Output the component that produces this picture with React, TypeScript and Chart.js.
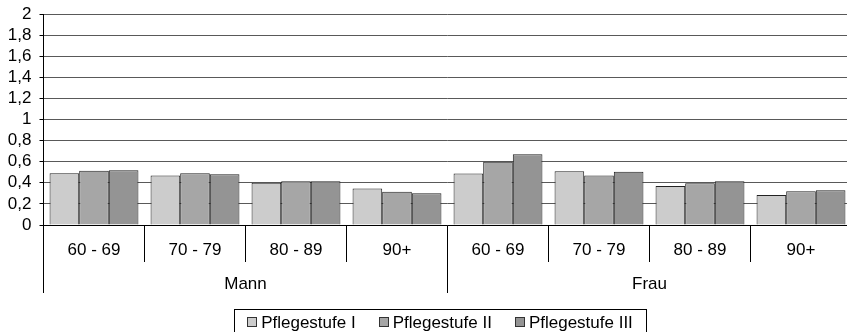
import React, { useEffect, useRef } from 'react';
import { Chart, registerables } from 'chart.js';

Chart.register(...registerables);

const categories = ['60 - 69', '70 - 79', '80 - 89', '90+', '60 - 69', '70 - 79', '80 - 89', '90+'];
const groups = ['Mann', 'Frau'];
const seriesNames = ['Pflegestufe I', 'Pflegestufe II', 'Pflegestufe III'];
const stufe1 = [0.49, 0.47, 0.4, 0.345, 0.487, 0.51, 0.37, 0.285];
const stufe2 = [0.515, 0.49, 0.415, 0.316, 0.6, 0.47, 0.395, 0.32];
const stufe3 = [0.52, 0.48, 0.415, 0.3, 0.67, 0.505, 0.415, 0.33];
const colors = ['#cccccc', '#a6a6a6', '#949494'];

const FONT_FAMILY = '"Liberation Sans", Arial, sans-serif';
const FONT_SIZE = 17;

const legendPlugin = {
  id: 'boxLegend',
  afterDraw(chart: any) {
    const ctx = chart.ctx;
    ctx.save();
    ctx.font = `${FONT_SIZE}px ${FONT_FAMILY}`;
    const box = 10;
    const gap = 4;
    const spacing = 23;
    const pad = 13;
    const items = chart.data.datasets.map((d: any) => ({
      text: d.label,
      color: d.backgroundColor,
      w: ctx.measureText(d.label).width,
    }));
    let total = 0;
    items.forEach((it: any, i: number) => {
      total += box + gap + it.w + (i < items.length - 1 ? spacing : 0);
    });
    const cx = chart.width / 2;
    const left = cx - total / 2;
    const top = 309;
    const cy = 322;
    ctx.strokeStyle = '#000';
    ctx.lineWidth = 1;
    ctx.strokeRect(Math.round(left - pad) + 0.5, top + 0.5, Math.round(total + 2 * pad), 30);
    let x = left;
    ctx.textBaseline = 'middle';
    ctx.textAlign = 'left';
    items.forEach((it: any) => {
      ctx.fillStyle = it.color;
      ctx.fillRect(Math.round(x) + 0.5, cy - 5 + 0.5, box - 1, box - 1);
      ctx.strokeStyle = '#333';
      ctx.strokeRect(Math.round(x) + 0.5, cy - 5 + 0.5, box - 1, box - 1);
      ctx.fillStyle = '#000';
      ctx.fillText(it.text, x + box + gap, cy + 1);
      x += box + gap + it.w + spacing;
    });
    ctx.restore();
  },
};

export default function App() {
  const ref = useRef<HTMLCanvasElement>(null);
  useEffect(() => {
    if (!ref.current) return;
    const font = { family: FONT_FAMILY, size: FONT_SIZE };
    const chart = new Chart(ref.current, {
      type: 'bar',
      data: {
        labels: categories,
        datasets: [stufe1, stufe2, stufe3].map((d, i) => ({
          label: seriesNames[i],
          data: d,
          backgroundColor: colors[i],
          borderColor: '#222',
          borderWidth: 1,
          categoryPercentage: 0.88,
          barPercentage: 1.0,
          xAxisID: 'x',
        })),
      },
      options: {
        responsive: false,
        animation: false,
        devicePixelRatio: 1,
        layout: { padding: { left: 0, right: 28.5, top: 14, bottom: 39 } },
        plugins: { legend: { display: false }, tooltip: { enabled: false } },
        scales: {
          x: {
            type: 'category',
            position: 'bottom',
            weight: 0,
            offset: true,
            grid: { offset: true, drawOnChartArea: false, color: '#000', tickLength: 37 },
            border: { color: '#000' },
            ticks: { font, color: '#000', padding: -22, maxRotation: 0, autoSkip: false },
            afterFit: (s: any) => {
              s.height = 37;
              s.paddingLeft = 0;
              s.paddingRight = 0;
            },
          },
          x2: {
            type: 'category',
            labels: groups,
            position: 'bottom',
            weight: 1,
            offset: true,
            grid: { offset: true, drawOnChartArea: false, color: '#000', tickLength: 31 },
            border: { display: false },
            ticks: { font, color: '#000', padding: -19, maxRotation: 0, autoSkip: false },
            afterFit: (s: any) => {
              s.height = 31;
              s.paddingLeft = 0;
              s.paddingRight = 0;
            },
          },
          y: {
            min: 0,
            max: 2,
            ticks: {
              stepSize: 0.2,
              autoSkip: false,
              font,
              color: '#000',
              padding: 8,
              callback: (v: any) => (Math.round(Number(v) * 10) / 10).toString().replace('.', ','),
            },
            grid: { color: '#595959', tickLength: 4, tickColor: '#000' },
            border: { color: '#000' },
            afterFit: (s: any) => {
              s.width = 43.5;
              s.paddingTop = 0;
              s.paddingBottom = 0;
            },
          },
        },
      },
      plugins: [legendPlugin],
    });
    return () => chart.destroy();
  }, []);
  return (
    <div style={{ position: 'fixed', left: 0, top: 0, width: 847, height: 332, overflow: 'hidden', background: '#fff' }}>
      <canvas ref={ref} width={880} height={332} style={{ display: 'block', width: 880, height: 332 }} />
    </div>
  );
}
